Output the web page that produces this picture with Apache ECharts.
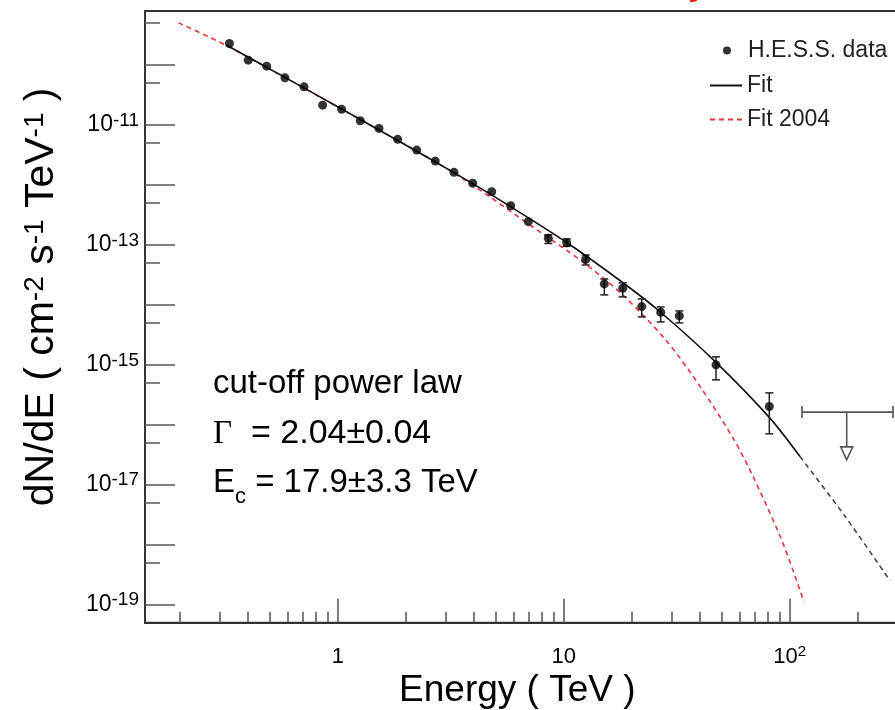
<!DOCTYPE html>
<html><head><meta charset="utf-8">
<script src="https://cdn.jsdelivr.net/npm/echarts@6/dist/echarts.min.js"></script>
<style>html,body{margin:0;padding:0;background:#fff;overflow:hidden}#c{width:895px;height:710px}</style>
</head><body><div id="c"></div>
<script>
// ---- data ----
const energy = [0.331,0.401,0.484,0.583,0.708,0.856,1.039,1.256,1.520,1.839,2.233,2.698,3.265,3.952,4.796,5.821,6.964,8.540,10.30,12.50,15.11,18.23,22.13,26.85,32.46,47.19,81.24];
const flux   = [2.30e-10,1.21e-10,9.62e-11,6.14e-11,4.35e-11,2.15e-11,1.83e-11,1.18e-11,8.81e-12,5.78e-12,3.83e-12,2.51e-12,1.63e-12,1.07e-12,7.73e-13,4.52e-13,2.45e-13,1.29e-13,1.09e-13,5.78e-14,2.24e-14,1.90e-14,9.37e-15,7.55e-15,6.56e-15,1.0e-15,2.02e-16];
const fluxErrHigh = [null,null,null,null,null,null,null,null,null,null,null,null,null,null,null,null,null,1.47e-13,1.26e-13,6.81e-14,2.71e-14,2.33e-14,1.26e-14,9.26e-15,7.94e-15,1.36e-15,3.41e-16];
const fluxErrLow  = [null,null,null,null,null,null,null,null,null,null,null,null,null,null,null,null,null,1.06e-13,9.5e-14,4.64e-14,1.47e-14,1.36e-14,6.31e-15,5.21e-15,5.01e-15,5.62e-16,7.08e-17];

const fitEnergy = [0.322,0.583,1.039,1.839,3.265,5.22,10.30,18.34,26.67,47.2,81.2,111.1];
const fitFlux   = [2.15e-10,6.25e-11,1.86e-11,5.53e-12,1.61e-12,5.61e-13,1.10e-13,2.32e-14,7.69e-15,1.10e-15,1.33e-16,2.95e-17];
const fitExtEnergy = [111.1,175.4,277.9];
const fitExtFlux   = [2.95e-17,3.02e-18,2.51e-19];

const fit2004Energy = [0.197,0.322,1.039,3.265,8.54,12.5,18.3,28.5,40.1,56.3,69.0,90.5,103.7,115.7];
const fit2004Flux   = [5.07e-10,2.11e-10,1.84e-11,1.58e-12,1.32e-13,4.79e-14,1.45e-14,2.51e-15,4.37e-16,5.89e-17,1.35e-17,1.41e-18,3.63e-19,1.10e-19];

const ulEnergy = [178.8];
const ulFlux = [1.63e-16];
const ulEnergyMin = [113.4];
const ulEnergyMax = [286.6];
const ulArrowTip = [2.6e-17];

const xMajorTicks = [1,10,100];
const xMinorTicks = [0.2,0.3,0.4,0.5,0.6,0.7,0.8,0.9,2,3,4,5,6,7,8,9,20,30,40,50,60,70,80,90,200,300,400];
const xLabelValues = [1,10,100];
const xLabelTexts = ['1','10','10^2'];
const yMajorTicks = [1e-19,1e-18,1e-17,1e-16,1e-15,1e-14,1e-13,1e-12,1e-11,1e-10];
const yMinorTicks = [5e-19,5e-18,5e-17,5e-16,5e-15,5e-14,5e-13,5e-12,5e-11,5e-10];
const yLabelValues = [1e-19,1e-17,1e-15,1e-13,1e-11];
const yLabelExps = ['-19','-17','-15','-13','-11'];

const X_MIN = 0.14, X_MAX = 500, Y_MIN = 5e-20, Y_MAX = 8e-10;
const FONT = '"Liberation Sans", Arial, Helvetica, sans-serif';

const chart = echarts.init(document.getElementById('c'), null, {renderer: 'canvas'});

function xLabelFmt(v) {
  const i = xLabelValues.findIndex(a => Math.abs(a - v) / a < 1e-6);
  if (i < 0) return '';
  const t = xLabelTexts[i];
  if (t.indexOf('^') >= 0) { const p = t.split('^'); return '{b|' + p[0] + '}{s|' + p[1] + '}'; }
  return '{b|' + t + '}';
}
function yLabelFmt(v) {
  const i = yLabelValues.findIndex(a => Math.abs(a - v) / a < 1e-6);
  if (i < 0) return '';
  return '{b|10}{s|' + yLabelExps[i] + '}';
}

const tickColor = '#555';
const axisColor = '#333';
const RED = '#e8343c';

const errData = [];
energy.forEach((e, i) => { if (fluxErrHigh[i] != null) errData.push([e, fluxErrLow[i], fluxErrHigh[i]]); });

const legendText = {fontFamily: FONT, fontSize: 23, color: '#222'};

const option = {
  animation: false,
  backgroundColor: '#fff',
  grid: { left: 145, top: 11, width: 802.6, height: 611.7, show: true, borderColor: axisColor, borderWidth: 2, containLabel: false, outerBoundsMode: 'none' },
  legend: [
    { data: [{name: 'H.E.S.S. data', icon: 'circle'}], left: 723, top: 39, padding: 0, itemWidth: 8, itemHeight: 8,
      symbolKeepAspect: true, textStyle: Object.assign({padding: [0, 0, 0, 12]}, legendText) },
    { data: [{name: 'Fit', icon: 'rect'}], left: 710, top: 74, padding: 0, itemWidth: 32, itemHeight: 2,
      symbolKeepAspect: false, textStyle: legendText },
    { data: [{name: 'Fit 2004', icon: 'path://M0,0h5v2h-5zM9,0h5v2h-5zM18,0h5v2h-5zM27,0h5v2h-5z'}], left: 710, top: 108, padding: 0,
      itemWidth: 32, itemHeight: 2, symbolKeepAspect: false, textStyle: legendText }
  ],
  xAxis: [
    { type: 'log', logBase: 10, min: X_MIN, max: X_MAX, position: 'bottom', gridIndex: 0,
      name: 'Energy ( TeV )', nameLocation: 'middle', nameGap: 45,
      nameTextStyle: {fontFamily: FONT, fontSize: 37, color: '#000', padding: [0, 58, 0, 0]},
      axisLine: {show: true, lineStyle: {color: axisColor, width: 2}},
      axisTick: {show: true, inside: true, length: 24, customValues: xMajorTicks, lineStyle: {color: tickColor, width: 1.5}},
      axisLabel: {show: true, customValues: xLabelValues, margin: 22, formatter: xLabelFmt,
        rich: { b: {fontFamily: FONT, fontSize: 22, color: '#000', lineHeight: 24},
                s: {fontFamily: FONT, fontSize: 15, color: '#000', verticalAlign: 'top', lineHeight: 12} } },
      splitLine: {show: false}, minorTick: {show: false} },
    { type: 'log', logBase: 10, min: X_MIN, max: X_MAX, position: 'bottom', gridIndex: 0,
      axisLine: {show: false},
      axisTick: {show: true, inside: true, length: 11, customValues: xMinorTicks, lineStyle: {color: tickColor, width: 1.5}},
      axisLabel: {show: false}, splitLine: {show: false} }
  ],
  yAxis: [
    { type: 'log', logBase: 10, min: Y_MIN, max: Y_MAX, position: 'left', gridIndex: 0,
      name: 'dN/dE ( cm{s|-2} s{s|-1} TeV{s|-1} )', nameLocation: 'middle', nameGap: 83, nameRotate: 90,
      nameTextStyle: {fontFamily: FONT, fontSize: 41, color: '#000', padding: [0, 0, 0, 40],
        rich: { s: {fontFamily: FONT, fontSize: 28, color: '#000', verticalAlign: 'top', lineHeight: 26} } },
      axisLine: {show: true, lineStyle: {color: axisColor, width: 2}},
      axisTick: {show: true, inside: true, length: 30, customValues: yMajorTicks, lineStyle: {color: tickColor, width: 1.5}},
      axisLabel: {show: true, customValues: yLabelValues, margin: 6, formatter: yLabelFmt,
        rich: { b: {fontFamily: FONT, fontSize: 23, color: '#000', lineHeight: 28},
                s: {fontFamily: FONT, fontSize: 19, color: '#000', verticalAlign: 'top', lineHeight: 16} } },
      splitLine: {show: false} },
    { type: 'log', logBase: 10, min: Y_MIN, max: Y_MAX, position: 'left', gridIndex: 0,
      axisLine: {show: false},
      axisTick: {show: true, inside: true, length: 15, customValues: yMinorTicks, lineStyle: {color: tickColor, width: 1.5}},
      axisLabel: {show: false}, splitLine: {show: false} }
  ],
  series: [
    { name: 'Fit 2004', type: 'line', xAxisIndex: 0, yAxisIndex: 0, smooth: 0.3, symbol: 'none',
      data: fit2004Energy.map((e, i) => [e, fit2004Flux[i]]),
      lineStyle: {color: RED, width: 1.6, type: [5, 4]}, itemStyle: {color: RED}, z: 2 },
    { name: 'Fit', type: 'line', xAxisIndex: 0, yAxisIndex: 0, smooth: 0.3, symbol: 'none',
      data: fitEnergy.map((e, i) => [e, fitFlux[i]]),
      lineStyle: {color: '#111', width: 1.6}, itemStyle: {color: '#111'}, z: 3 },
    { name: 'Fit extrapolation', type: 'line', xAxisIndex: 0, yAxisIndex: 0, smooth: 0.3, symbol: 'none',
      data: fitExtEnergy.map((e, i) => [e, fitExtFlux[i]]),
      lineStyle: {color: '#444', width: 1.6, type: [5, 4]}, z: 3 },
    { name: 'errors', type: 'custom', xAxisIndex: 0, yAxisIndex: 0, data: errData, encode: {x: 0, y: [1, 2]}, z: 4,
      renderItem: function (params, api) {
        const e = api.value(0);
        const lo = api.coord([e, api.value(1)]);
        const hi = api.coord([e, api.value(2)]);
        const cw = 4;
        const st = {stroke: '#222', lineWidth: 1.5};
        return {type: 'group', children: [
          {type: 'line', shape: {x1: lo[0], y1: lo[1], x2: hi[0], y2: hi[1]}, style: st},
          {type: 'line', shape: {x1: lo[0] - cw, y1: lo[1], x2: lo[0] + cw, y2: lo[1]}, style: st},
          {type: 'line', shape: {x1: hi[0] - cw, y1: hi[1], x2: hi[0] + cw, y2: hi[1]}, style: st}
        ]};
      } },
    { name: 'H.E.S.S. data', type: 'scatter', xAxisIndex: 0, yAxisIndex: 0, symbol: 'circle', symbolSize: 9,
      data: energy.map((e, i) => [e, flux[i]]), itemStyle: {color: '#000'}, z: 5 },
    { name: 'upper limit', type: 'custom', xAxisIndex: 0, yAxisIndex: 0, z: 4,
      data: ulEnergy.map((e, i) => [e, ulFlux[i], ulEnergyMin[i], ulEnergyMax[i], ulArrowTip[i]]),
      encode: {x: 0, y: 1},
      renderItem: function (params, api) {
        const c = api.coord([api.value(0), api.value(1)]);
        const l = api.coord([api.value(2), api.value(1)]);
        const r = api.coord([api.value(3), api.value(1)]);
        const t = api.coord([api.value(0), api.value(4)]);
        const st = {stroke: '#555', lineWidth: 1.6, fill: null};
        const th = 13, tw = 6;
        return {type: 'group', children: [
          {type: 'line', shape: {x1: l[0], y1: l[1], x2: r[0], y2: r[1]}, style: st},
          {type: 'line', shape: {x1: l[0], y1: l[1] - 6, x2: l[0], y2: l[1] + 6}, style: st},
          {type: 'line', shape: {x1: r[0], y1: r[1] - 6, x2: r[0], y2: r[1] + 6}, style: st},
          {type: 'line', shape: {x1: c[0], y1: c[1], x2: c[0], y2: t[1] - th}, style: st},
          {type: 'polygon', shape: {points: [[c[0] - tw, t[1] - th], [c[0] + tw, t[1] - th], [c[0], t[1]]]}, style: {stroke: '#555', lineWidth: 1.6, fill: '#fff'}}
        ]};
      } }
  ],
  graphic: [
    { type: 'text', left: 213, top: 367, style: { text: 'cut-off power law', font: '33px ' + FONT, fill: '#000' } },
    { type: 'text', left: 213, top: 417, style: { text: '{g|Γ}{t|  = 2.04±0.04}',
        rich: { g: {fontFamily: '"Liberation Serif", "Times New Roman", serif', fontSize: 33, fill: '#000', lineHeight: 38},
                t: {fontFamily: FONT, fontSize: 34, fill: '#000', lineHeight: 38} } } },
    { type: 'text', left: 213, top: 466, style: { text: '{t|E}{c|c}{t| = 17.9±3.3 TeV}',
        rich: { t: {fontFamily: FONT, fontSize: 33, fill: '#000', lineHeight: 38},
                c: {fontFamily: FONT, fontSize: 22, fill: '#000', verticalAlign: 'bottom', lineHeight: 22, padding: [0, 0, -6, 0]} } } },
    { type: 'text', style: { x: 688, y: 2, text: 'y', font: 'bold 36px ' + FONT, fill: '#ee1c1c', verticalAlign: 'bottom' } }
  ]
};
chart.setOption(option);
</script>
</body></html>
